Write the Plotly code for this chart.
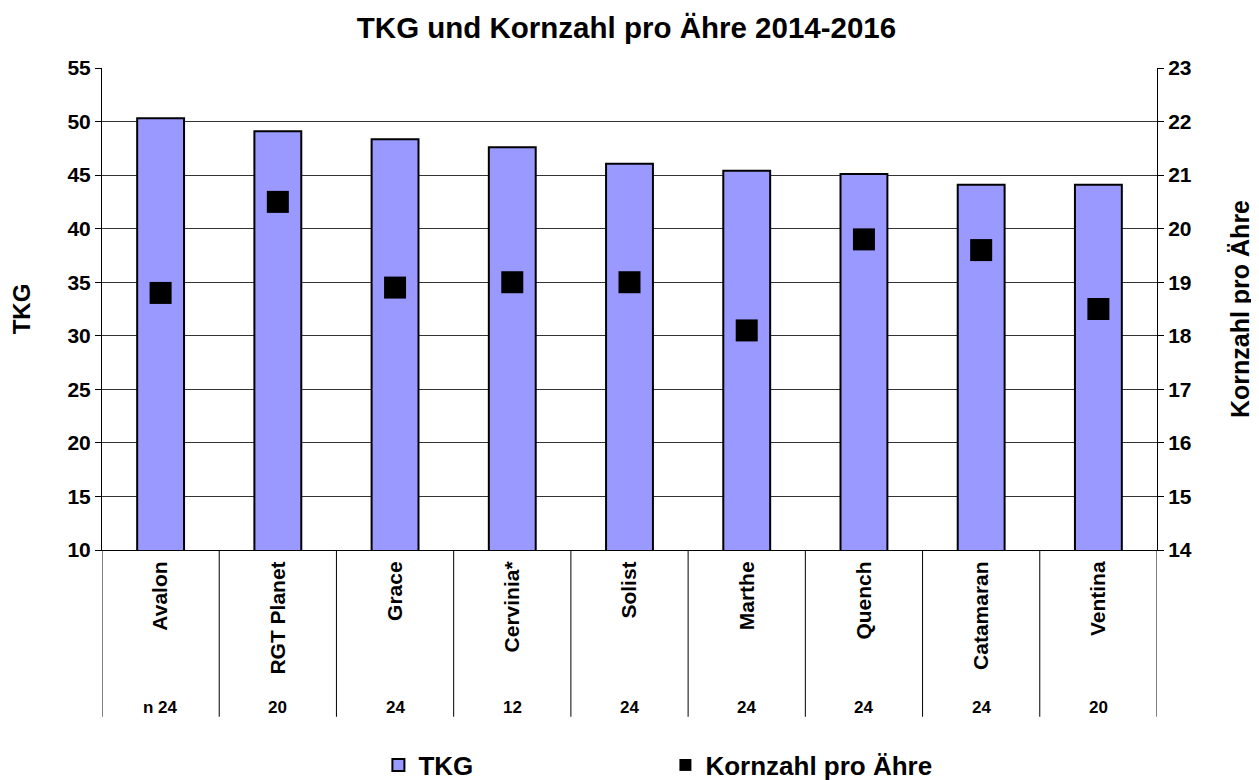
import plotly.graph_objects as go

sorten = ["Avalon", "RGT Planet", "Grace", "Cervinia*", "Solist", "Marthe", "Quench", "Catamaran", "Ventina"]
tkg = [50.3, 49.1, 48.35, 47.6, 46.05, 45.4, 45.1, 44.1, 44.1]
kornzahl = [18.8, 20.5, 18.9, 19.0, 19.0, 18.1, 19.8, 19.6, 18.5]
n_labels = ["n 24", "20", "24", "12", "24", "24", "24", "24", "20"]

FONT = "Arial, Liberation Sans, sans-serif"

fig = go.Figure()
fig.add_trace(go.Bar(
    x=sorten, y=tkg, name="TKG",
    marker=dict(color="#9999FF", line=dict(color="black", width=2)),
    width=0.4,
))
fig.add_trace(go.Scatter(
    x=sorten, y=kornzahl, name="Kornzahl pro Ähre", yaxis="y2",
    mode="markers",
    marker=dict(symbol="square", size=22, color="black"),
))

# table separators and n row
n = len(sorten)
for i in range(n + 1):
    fig.add_shape(type="line", xref="x", yref="paper",
                  x0=i - 0.5, x1=i - 0.5, y0=0, y1=-0.346,
                  line=dict(color="black", width=1))
for i, lab in enumerate(n_labels):
    fig.add_annotation(x=sorten[i], y=-0.326, xref="x", yref="paper",
                       xanchor="center", yanchor="middle",
                       text=lab, showarrow=False,
                       font=dict(family=FONT, size=17, color="black", weight="bold"))

fig.update_layout(
    width=1251, height=772,
    margin=dict(l=94, r=102, t=60, b=230),
    paper_bgcolor="white", plot_bgcolor="white",
    font=dict(family=FONT, color="black"),
    title=dict(text="TKG und Kornzahl pro Ähre 2014-2016", x=0.4944, xanchor="center",
               y=0.974, yanchor="middle",
               font=dict(family=FONT, size=29.5, color="black", weight="bold")),
    showlegend=True,
    legend=dict(orientation="h", x=0.262, xanchor="left",
                yref="container", y=0.0194, yanchor="middle",
                entrywidth=242, entrywidthmode="pixels",
                font=dict(family=FONT, size=26, color="black", weight="bold"),
                itemsizing="constant"),
    bargap=0.6,
    xaxis=dict(type="category", range=[-0.5, n - 0.5], showline=True, linecolor="black",
               linewidth=1, ticks="", tickangle=-90, ticklabelstandoff=2,
               tickfont=dict(family=FONT, size=21, color="black", weight="bold"),
               showgrid=False, fixedrange=True, automargin=False),
    yaxis=dict(range=[10, 55], dtick=5, showgrid=True, gridcolor="#333", gridwidth=1,
               showline=True, linecolor="black", linewidth=1, ticks="outside", ticklen=6,
               tickcolor="black", automargin=False,
               tickfont=dict(family=FONT, size=21, color="black", weight="bold"),
               title=dict(text="TKG", standoff=39,
                          font=dict(family=FONT, size=24, color="black", weight="bold")),
               zeroline=False),
    yaxis2=dict(range=[14, 23], dtick=1, overlaying="y", side="right", showgrid=False,
                showline=True, linecolor="black", linewidth=1, ticks="outside", ticklen=6,
                tickcolor="black", automargin=False,
                tickfont=dict(family=FONT, size=21, color="black", weight="bold"),
                title=dict(text="Kornzahl pro Ähre", standoff=40,
                           font=dict(family=FONT, size=25, color="black", weight="bold")),
                zeroline=False),
)

fig.write_html("out.html")
